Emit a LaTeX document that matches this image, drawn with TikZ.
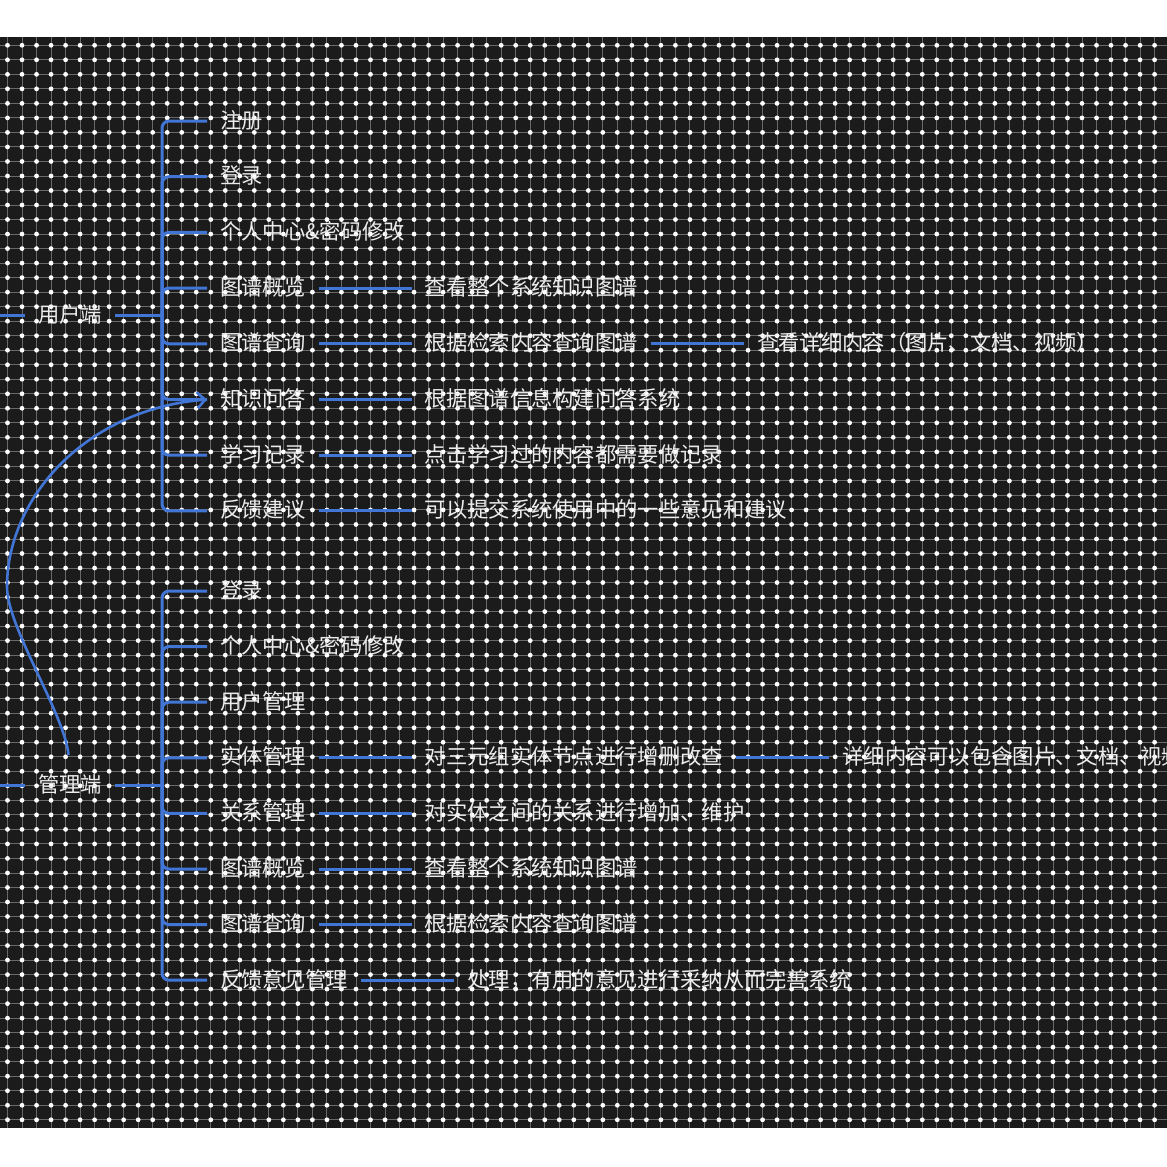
\documentclass[tikz,border=0pt]{standalone}
\usepackage{fontspec}
\setmainfont{Noto Sans CJK SC}
\usetikzlibrary{arrows.meta,positioning}
\definecolor{mapbg}{RGB}{27,27,27}
\definecolor{mapblue}{RGB}{66,118,214}
\definecolor{maptxt}{RGB}{236,236,236}
\definecolor{gridgray}{RGB}{105,105,105}
\tikzset{
  gridln/.style={gridgray, line width=0.9pt},
  griddot/.style={white, line width=4.8pt, line cap=round, dash pattern=on 0pt off 14.52pt},
  root/.style={font=\fontsize{21.3}{24}\selectfont, text=maptxt, inner xsep=13pt, inner ysep=2pt,
    text height=18pt, text depth=4pt},
  item/.style={root, anchor=west},
  br/.style={mapblue, line width=3pt, rounded corners=7pt},
  qarr/.style={mapblue, line width=2.6pt, -{Straight Barb[length=8pt,width=16pt]}},
}

\begin{document}
\begin{tikzpicture}[x=1pt,y=-1pt]
\useasboundingbox (0,0) rectangle (1167,1167);
\fill[white] (0,0) rectangle (1167,1167);
\fill[mapbg] (0,37) rectangle (1167,1128);
% dotted grid
\foreach \c in {0,...,80}
  \draw[gridln] ({7.5+14.52*\c},37) -- ({7.5+14.52*\c},1128);
\foreach \r in {0,...,74} {
  \draw[gridln] (0,{45.3+14.52*\r}) -- (1167,{45.3+14.52*\r});
  \draw[griddot] (7.5,{45.3+14.52*\r}) -- (1167,{45.3+14.52*\r});
}

% user side
\node[root] (user) at (70,315) {用户端};
\coordinate (ul) at (0,315);
\coordinate (uj) at (162,315);
\foreach \t [count=\i] in {注册,登录,个人中心\&密码修改,图谱概览,图谱查询,知识问答,学习记录,反馈建议}
  \node[item] (u\i) at (207,{121+55.7*(\i-1)}) {\t};
\node[item, right=93pt of u4] (u4a) {查看整个系统知识图谱};
\node[item, right=93pt of u5] (u5a) {根据检索内容查询图谱};
\node[item, right=93pt of u5a] (u5b) {查看详细内容（图片、文档、视频）};
\node[item, right=93pt of u6] (u6a) {根据图谱信息构建问答系统};
\node[item, right=93pt of u7] (u7a) {点击学习过的内容都需要做记录};
\node[item, right=93pt of u8] (u8a) {可以提交系统使用中的一些意见和建议};
\draw[br] (ul) -- (user.west) (user.east) -- (uj);
\foreach \i in {1,...,8} \draw[br] (uj) |- (u\i.west);
\foreach \a/\b in {u4/u4a,u5/u5a,u5a/u5b,u6/u6a,u7/u7a,u8/u8a}
  \draw[br] (\a.east) -- (\b.west);

% admin side
\node[root] (admin) at (70,785) {管理端};
\coordinate (al) at (0,785);
\coordinate (aj) at (162,785);
\foreach \t [count=\i] in {登录,个人中心\&密码修改,用户管理,实体管理,关系管理,图谱概览,图谱查询,反馈意见管理}
  \node[item] (a\i) at (207,{591+55.6*(\i-1)}) {\t};
\node[item, right=93pt of a4] (a4a) {对三元组实体节点进行增删改查};
\node[item, right=93pt of a4a] (a4b) {详细内容可以包含图片、文档、视频};
\node[item, right=93pt of a5] (a5a) {对实体之间的关系进行增加、维护};
\node[item, right=93pt of a6] (a6a) {查看整个系统知识图谱};
\node[item, right=93pt of a7] (a7a) {根据检索内容查询图谱};
\node[item, right=93pt of a8] (a8a) {处理，有用的意见进行采纳从而完善系统};
\draw[br] (al) -- (admin.west) (admin.east) -- (aj);
\foreach \i in {1,...,8} \draw[br] (aj) |- (a\i.west);
\foreach \a/\b in {a4/a4a,a4a/a4b,a5/a5a,a6/a6a,a7/a7a,a8/a8a}
  \draw[br] (\a.east) -- (\b.west);

% admin -> QA
\draw[qarr, shorten <=17pt] (admin.north) .. controls (65,715) and (7,627) .. (7,587)
  .. controls (7,497) and (87,409) .. (u6.west);
\end{tikzpicture}
\end{document}
